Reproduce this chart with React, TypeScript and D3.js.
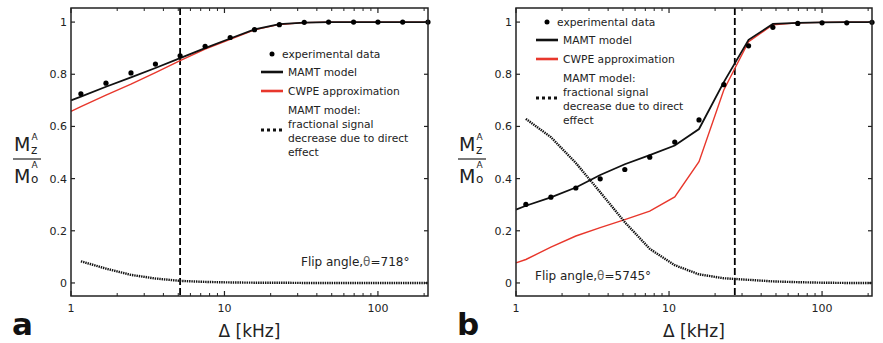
import React from "react";
import * as d3 from "d3";

// frequency offsets (kHz) of the measured points
const freqs = [1.16, 1.69, 2.46, 3.55, 5.14, 7.48, 10.9, 15.7, 22.8, 33.1, 47.7, 69.4, 100, 145, 212];
// model curves start at 1 kHz, then follow the same offsets
const modelFreqs = [1, ...freqs];

// panel a (flip angle 718°)
const expA = [0.725, 0.766, 0.805, 0.839, 0.871, 0.907, 0.941, 0.971, 0.99, 0.999, 1, 1, 1, 1, 1];
const mamtA = [0.7, 0.714, 0.752, 0.788, 0.824, 0.862, 0.9, 0.937, 0.972, 0.992, 0.998, 1, 1, 1, 1, 1];
const cwpeA = [0.658, 0.676, 0.72, 0.762, 0.806, 0.852, 0.896, 0.934, 0.97, 0.991, 0.998, 1, 1, 1, 1, 1];
const directA = [0.083, 0.055, 0.031, 0.017, 0.008, 0.004, 0.002, 0.001, 0.001, 0, 0, 0, 0, 0, 0];

// panel b (flip angle 5745°)
const expB = [0.301, 0.329, 0.364, 0.399, 0.435, 0.482, 0.54, 0.625, 0.76, 0.909, 0.98, 0.995, 0.997, 0.997, 0.999];
const mamtB = [0.281, 0.296, 0.328, 0.366, 0.414, 0.455, 0.49, 0.527, 0.59, 0.77, 0.932, 0.993, 0.997, 0.999, 1, 1];
const cwpeB = [0.077, 0.09, 0.137, 0.18, 0.212, 0.243, 0.275, 0.33, 0.465, 0.74, 0.925, 0.99, 0.997, 0.999, 1, 1];
const directB = [0.629, 0.559, 0.46, 0.348, 0.233, 0.131, 0.068, 0.033, 0.018, 0.012, 0.006, 0.003, 0.001, 0, 0];

const yTicks = [0, 0.2, 0.4, 0.6, 0.8, 1];
const yTickLabels = ["0", "0.2", "0.4", "0.6", "0.8", "1"];
const xTicks = [1, 10, 100];
const legendLabels = ["experimental data", "MAMT model", "CWPE approximation"];
const directLabel = ["MAMT model:", "fractional signal", "decrease due to direct", "effect"];

const FONT = "DejaVu Sans, sans-serif";
const RED = "#e8372c";

type PanelProps = {
  left: number;
  right: number;
  letter: string;
  exp: number[];
  mamt: number[];
  cwpe: number[];
  direct: number[];
  cutoff: number;
  flip: string;
  flipPos: [number, number];
  legendPos: [number, number];
};

function Panel(p: PanelProps) {
  const top = 8;
  const bottom = 296;
  const x = d3.scaleLog().domain([1, 212]).range([p.left, p.right]);
  const y = d3.scaleLinear().domain([-0.05, 1.054]).range([bottom, top]);

  const line = d3
    .line<[number, number]>()
    .x(d => x(d[0]))
    .y(d => y(d[1]));

  const minor = d3.range(2, 10).flatMap(k => [k, k * 10]).concat([200]);
  const [lx, ly] = p.legendPos;
  const labelX = p.left - 57;

  return (
    <g fontFamily={FONT}>
      {/* vertical dashed cutoff */}
      <line x1={x(p.cutoff)} x2={x(p.cutoff)} y1={top} y2={bottom} stroke="#000" strokeWidth={1.8} strokeDasharray="7 3" />

      <path d={line(modelFreqs.map((f, i) => [f, p.cwpe[i]]) as [number, number][]) || ""} fill="none" stroke={RED} strokeWidth={1.4} />
      <path d={line(modelFreqs.map((f, i) => [f, p.mamt[i]]) as [number, number][]) || ""} fill="none" stroke="#111" strokeWidth={1.8} />
      <path d={line(freqs.map((f, i) => [f, p.direct[i]]) as [number, number][]) || ""} fill="none" stroke="#111" strokeWidth={2.4} strokeDasharray="1.4 0.9" />
      {p.exp.map((v, i) => (
        <circle key={i} cx={x(freqs[i])} cy={y(v)} r={2.6} fill="#000" />
      ))}

      {/* frame */}
      <rect x={p.left} y={top} width={p.right - p.left} height={bottom - top} fill="none" stroke="#222" strokeWidth={1.5} />

      {yTicks.map((t, i) => (
        <g key={t}>
          <line x1={p.left} x2={p.left + 4} y1={y(t)} y2={y(t)} stroke="#222" strokeWidth={1.2} />
          <line x1={p.right} x2={p.right - 4} y1={y(t)} y2={y(t)} stroke="#222" strokeWidth={1.2} />
          <text x={p.left - 4} y={y(t) + 4} textAnchor="end" fontSize={11} fill="#222">
            {yTickLabels[i]}
          </text>
        </g>
      ))}
      {xTicks.map(t => (
        <g key={t}>
          <line x1={x(t)} x2={x(t)} y1={bottom} y2={bottom - 5} stroke="#222" strokeWidth={1.2} />
          <line x1={x(t)} x2={x(t)} y1={top} y2={top + 5} stroke="#222" strokeWidth={1.2} />
          <text x={x(t)} y={312} textAnchor="middle" fontSize={11} fill="#222">
            {t}
          </text>
        </g>
      ))}
      {minor.map(t => (
        <g key={"m" + t}>
          <line x1={x(t)} x2={x(t)} y1={bottom} y2={bottom - 3} stroke="#222" strokeWidth={1} />
          <line x1={x(t)} x2={x(t)} y1={top} y2={top + 3} stroke="#222" strokeWidth={1} />
        </g>
      ))}

      {/* axis titles */}
      <text x={(x(1) + x(212)) / 2 + 0} y={337} textAnchor="middle" fontSize={17} fill="#222">
        Δ [kHz]
      </text>
      <g fill="#222">
        <text x={labelX} y={151} fontSize={19}>M</text>
        <text x={labelX + 17} y={154} fontSize={12}>z</text>
        <text x={labelX + 17.5} y={140} fontSize={9}>A</text>
        <line x1={labelX - 1} x2={labelX + 27} y1={159} y2={159} stroke="#222" strokeWidth={1.2} />
        <text x={labelX} y={183} fontSize={19}>M</text>
        <text x={labelX + 17} y={183} fontSize={12}>o</text>
        <text x={labelX + 17.5} y={168} fontSize={9}>A</text>
      </g>

      <text x={p.left - 59} y={335} fontSize={31} fontWeight="bold" fill="#111">
        {p.letter}
      </text>

      <text x={p.flipPos[0]} y={p.flipPos[1]} fontSize={12} fill="#222">
        Flip angle,<tspan fill="#666">θ</tspan>={p.flip}°
      </text>

      {/* legend */}
      <g fontSize={10.7} fill="#222">
        <circle cx={lx + 11} cy={ly} r={2.5} fill="#000" />
        <text x={lx + 21} y={ly + 4}>{legendLabels[0]}</text>
        <line x1={lx} x2={lx + 22} y1={ly + 18} y2={ly + 18} stroke="#111" strokeWidth={2.6} />
        <text x={lx + 27} y={ly + 22}>{legendLabels[1]}</text>
        <line x1={lx} x2={lx + 22} y1={ly + 37} y2={ly + 37} stroke={RED} strokeWidth={2.6} />
        <text x={lx + 27} y={ly + 41}>{legendLabels[2]}</text>
        <line x1={lx} x2={lx + 22} y1={ly + 76} y2={ly + 76} stroke="#111" strokeWidth={2.8} strokeDasharray="3 3" />
        {directLabel.map((s, i) => (
          <text key={s} x={lx + 27} y={ly + 60 + i * 14}>
            {s}
          </text>
        ))}
      </g>
    </g>
  );
}

export default function App() {
  return (
    <svg width={883} height={343} style={{ display: "block", position: "absolute", left: 0, top: 0 }}>
      <rect width={883} height={343} fill="#fff" />
      <Panel
        left={71}
        right={428}
        letter="a"
        exp={expA}
        mamt={mamtA}
        cwpe={cwpeA}
        direct={directA}
        cutoff={5.14}
        flip="718"
        flipPos={[301, 266]}
        legendPos={[261, 54]}
      />
      <Panel
        left={516}
        right={872}
        letter="b"
        exp={expB}
        mamt={mamtB}
        cwpe={cwpeB}
        direct={directB}
        cutoff={26.9}
        flip="5745"
        flipPos={[535, 280]}
        legendPos={[536, 22]}
      />
    </svg>
  );
}
